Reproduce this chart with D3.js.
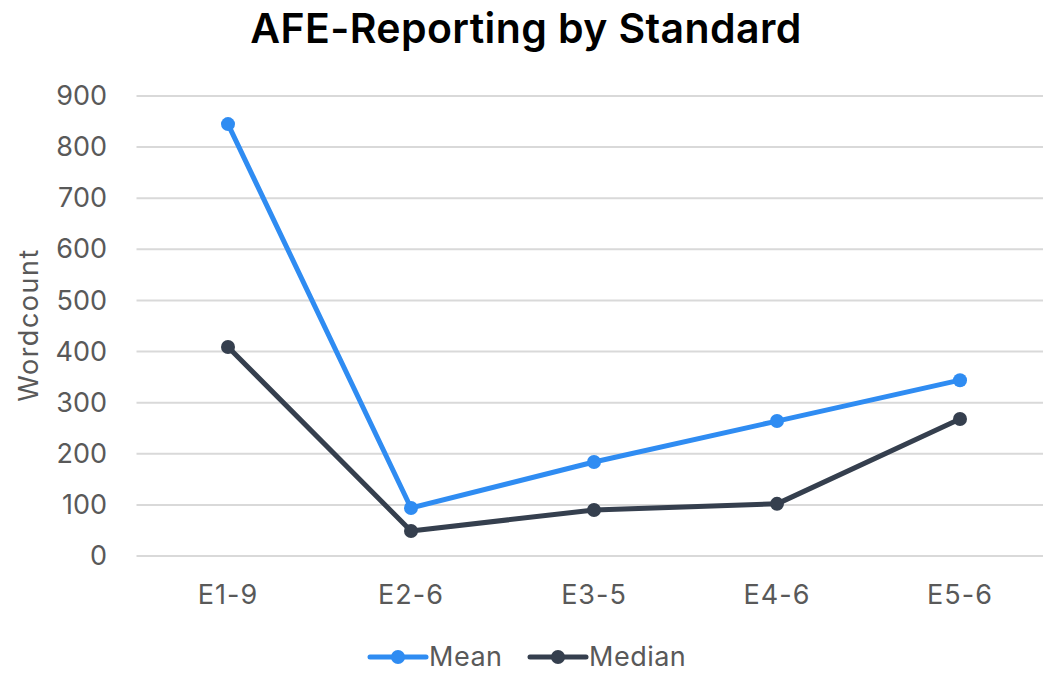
<!DOCTYPE html>
<html><head><meta charset="utf-8">
<script src="https://cdn.jsdelivr.net/npm/d3@7"></script>
<style>body{margin:0;background:#fff}svg{display:block}</style>
</head><body><svg id="c" width="1043" height="673"></svg>
<script>
const categories = ["E1-9","E2-6","E3-5","E4-6","E5-6"];
const meanValues = [845, 94, 184, 264, 344];
const medianValues = [409, 49, 90, 102, 268];
const yTicks = [0,100,200,300,400,500,600,700,800,900];
const seriesNames = ["Mean","Median"];
const colors = ["#2F8CF2","#353F4E"];

const svg = d3.select("#c");
const font = "Inter, 'Open Sans', sans-serif";
const x = d3.scaleBand().domain(categories).range([136.5, 1051.5]);
const y = d3.scaleLinear().domain([0,900]).range([556, 96]);

svg.append("text").attr("x",526).attr("y",43).attr("text-anchor","middle")
  .attr("font-family",font).attr("font-weight",600).attr("font-size",41).attr("fill","#000")
  .attr("letter-spacing","0.4px")
  .text("AFE-Reporting by Standard");

const grid = svg.append("g");
yTicks.forEach(t=>{
  grid.append("line").attr("x1",136.5).attr("x2",1051.5).attr("y1",y(t)).attr("y2",y(t))
    .attr("stroke","#d9d9d9").attr("stroke-width",2);
});
const yAxis = d3.axisLeft(y).tickValues(yTicks).tickSize(0).tickPadding(29);
const ga = svg.append("g").attr("transform","translate(136,0)").call(yAxis);
ga.select(".domain").remove();
ga.selectAll("text").attr("font-family",font).attr("font-size",27).attr("fill","#595959");

const xAxis = d3.axisBottom(x).tickSize(0).tickPadding(24);
const gx = svg.append("g").attr("transform","translate(0,580)").call(xAxis);
gx.select(".domain").remove();
gx.selectAll("text").attr("font-family",font).attr("font-size",27).attr("fill","#595959")
  .attr("letter-spacing","1px").attr("dy","0");

svg.append("text").attr("transform","translate(38,325) rotate(-90)").attr("text-anchor","middle")
  .attr("font-family",font).attr("font-size",27).attr("fill","#595959")
  .attr("letter-spacing","1.5px").text("Wordcount");

const series = [meanValues, medianValues];
const line = d3.line().x((d,i)=>x(categories[i])+x.bandwidth()/2).y(d=>y(d));
series.forEach((vals,si)=>{
  svg.append("path").datum(vals).attr("d",line).attr("fill","none")
    .attr("stroke",colors[si]).attr("stroke-width",5).attr("stroke-linejoin","round");
  svg.selectAll(null).data(vals).enter().append("circle")
    .attr("cx",(d,i)=>x(categories[i])+x.bandwidth()/2).attr("cy",d=>y(d)).attr("r",7)
    .attr("fill",colors[si]);
});

// legend
const legX = [370, 530];
seriesNames.forEach((n,i)=>{
  const g = svg.append("g").attr("transform",`translate(${legX[i]},657)`);
  g.append("line").attr("x1",0).attr("x2",56).attr("stroke",colors[i]).attr("stroke-width",5).attr("stroke-linecap","round");
  g.append("circle").attr("cx",28).attr("r",7).attr("fill",colors[i]);
  g.append("text").attr("x",59).attr("y",9).attr("font-family",font).attr("font-size",27)
    .attr("letter-spacing","0.5px").attr("fill","#595959").text(n);
});
</script></body></html>
